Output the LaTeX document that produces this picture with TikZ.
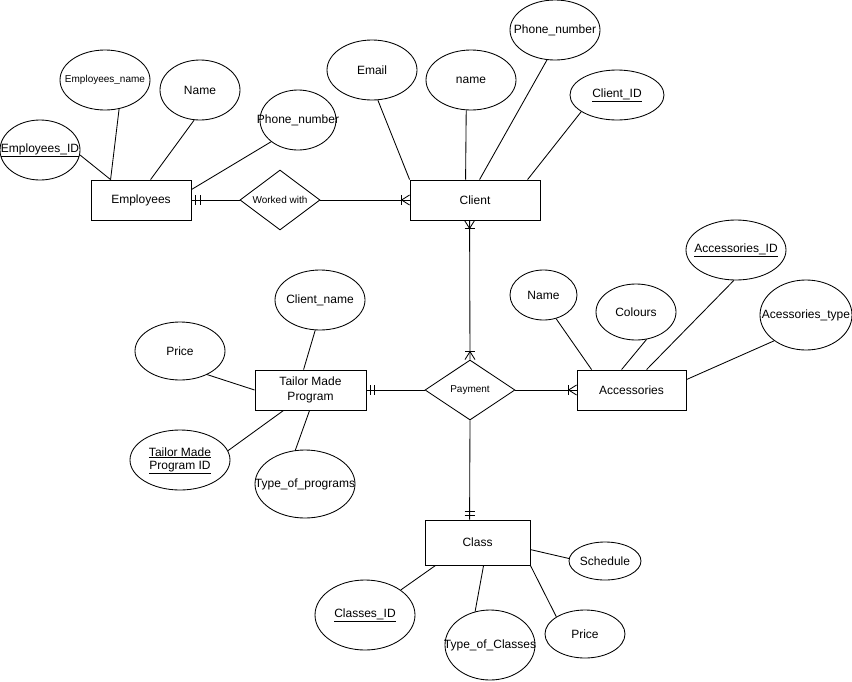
\documentclass[tikz,border=0pt]{standalone}
\usepackage{fontspec}
\setmainfont{Liberation Sans}
\usetikzlibrary{shapes.geometric,calc}
\begin{document}
\begin{tikzpicture}[x=1pt,y=-1pt,line width=0.85pt,
  every node/.style={font=\fontsize{12}{14.4}\selectfont},
  ent/.style 2 args={draw,rectangle,inner sep=0,align=center,minimum width=#1,minimum height=#2},
  attr/.style 2 args={draw,ellipse,inner sep=0,minimum width=#1,minimum height=#2},
  rel/.style 2 args={draw,diamond,inner sep=0,minimum width=#1,minimum height=#2,font=\fontsize{10}{12}\selectfont},
  small/.style={font=\fontsize{10}{12}\selectfont}]
\useasboundingbox (0,0) rectangle (852,681);

% entities and relationships
\node[ent={100}{40}] (emp) at (141,200) {Employees};
\node[rel={80}{60}] (wk) at (280,200) {\makebox[0pt]{Worked with}};
\node[ent={130}{40}] (client) at (475,200) {Client};
\node[rel={90}{60}] (pay) at (470,390) {\makebox[0pt]{Payment}};
\node[ent={111}{40}] (tmp) at (310.5,390) {Tailor Made\\Program};
\node[ent={109}{40}] (acc) at (631.5,390) {Accessories};
\node[ent={105}{45}] (cls) at (477.5,542.5) {Class};

% attributes of Employees
\node[attr={80}{60}] (eid) at (40,150) {\makebox[0pt]{\underline{Employees\_ID}}};
\node[attr={90}{60},small] (ename) at (105,80) {\makebox[0pt]{Employees\_name}};
\node[attr={80}{60}] (ename2) at (200,90) {\makebox[0pt]{Name}};
\node[attr={76}{60}] (ephone) at (298,120) {\makebox[0pt]{Phone\_number}};

% attributes of Client
\node[attr={90}{60}] (cemail) at (372,70) {\makebox[0pt]{Email}};
\node[attr={90}{60}] (cname) at (471,80) {\makebox[0pt]{name}};
\node[attr={90}{60}] (cphone) at (555,30) {\makebox[0pt]{Phone\_number}};
\node[attr={94}{50}] (cid) at (617,95) {\makebox[0pt]{\underline{Client\_ID}}};

% attributes of Tailor Made Program
\node[attr={90}{60}] (tcn) at (320,300) {\makebox[0pt]{Client\_name}};
\node[attr={90}{58}] (tprice) at (180,351) {\makebox[0pt]{Price}};
\node[attr={100}{60}] (tid) at (180,460) {\makebox[0pt]{\begin{tabular}{@{}c@{}}\underline{Tailor Made}\\[-1pt]\underline{Program ID}\end{tabular}}};
\node[attr={100}{68}] (ttype) at (305,484) {\makebox[0pt]{Type\_of\_programs}};

% attributes of Accessories
\node[attr={67}{50}] (aname) at (543.5,295) {\makebox[0pt]{Name}};
\node[attr={80}{56}] (acol) at (636,312) {\makebox[0pt]{Colours}};
\node[attr={100}{60}] (aid) at (736,250) {\makebox[0pt]{\underline{Accessories\_ID}}};
\node[attr={92}{70}] (atype) at (806,315) {\makebox[0pt]{Acessories\_type}};

% attributes of Class
\node[attr={72}{38}] (csched) at (605,561) {\makebox[0pt]{Schedule}};
\node[attr={100}{70}] (cid2) at (365,615) {\makebox[0pt]{\underline{Classes\_ID}}};
\node[attr={90}{70}] (ctype) at (490,645) {\makebox[0pt]{Type\_of\_Classes}};
\node[attr={80}{48}] (cprice) at (585,634) {\makebox[0pt]{Price}};

% attribute connectors
\draw (eid.-7) -- ($(emp.north west)+(20,0)$);
\draw (ename.-64) -- ($(emp.north west)+(20,0)$);
\draw (ename2.-101) -- ($(emp.north west)+(60,0)$);
\draw (ephone.-141) -- ($(emp.north east)+(0,10)$);

\draw (cemail.-79) -- (client.north west);
\draw (cname.-99) -- ($(client.north west)+(56,0)$);
\draw (cphone.-105) -- ($(client.north west)+(70,0)$);
\draw (cid.-155) -- ($(client.north west)+(118,0)$);

\draw (tcn.-99) -- ($(tmp.north west)+(49,0)$);
\draw (tprice.-41) -- (tmp.west);
\draw (tid.11) -- ($(tmp.south west)+(29,0)$);
\draw (ttype.106) -- ($(tmp.south west)+(55,0)$);

\draw (aname.-62) -- ($(acc.north west)+(15,0)$);
\draw (acol.-69) -- ($(acc.north west)+(45,0)$);
\draw (aid.-94) -- ($(acc.north west)+(70,0)$);
\draw (atype.-141) -- ($(acc.north east)+(0,10)$);

\draw (csched.176) -- ($(cls.north east)+(0,30)$);
\draw (cid2.35) -- ($(cls.south west)+(11,0)$);
\draw (ctype.114) -- ($(cls.south west)+(59,0)$);
\draw (cprice.149) -- (cls.south east);

% relationship connectors
\draw (emp.east) -- (wk.west);
\draw ($(emp.east)+(4,-5)$) -- ++(0,10);
\draw ($(emp.east)+(9,-5)$) -- ++(0,10);

\draw (wk.east) -- (client.west);
\draw ($(client.west)+(-8,-5)$) -- ++(0,10);
\draw ($(client.west)+(-8,0)$) -- ($(client.west)+(0,-5)$);
\draw ($(client.west)+(-8,0)$) -- ($(client.west)+(0,5)$);

\coordinate (cb) at ($(client.south west)+(60,0)$);
\draw (cb) -- (pay.north);
\draw ($(cb)+(-5,8)$) -- ++(10,0);
\draw ($(cb)+(0,8)$) -- ($(cb)+(-5,0)$);
\draw ($(cb)+(0,8)$) -- ($(cb)+(5,0)$);
\draw ($(pay.north)+(-5,-8)$) -- ++(10,0);
\draw ($(pay.north)+(0,-8)$) -- ($(pay.north)+(-5,0)$);
\draw ($(pay.north)+(0,-8)$) -- ($(pay.north)+(5,0)$);

\draw (tmp.east) -- (pay.west);
\draw ($(tmp.east)+(4,-5)$) -- ++(0,10);
\draw ($(tmp.east)+(8,-5)$) -- ++(0,10);

\draw (pay.east) -- (acc.west);
\draw ($(acc.west)+(-8,-5)$) -- ++(0,10);
\draw ($(acc.west)+(-8,0)$) -- ($(acc.west)+(0,-5)$);
\draw ($(acc.west)+(-8,0)$) -- ($(acc.west)+(0,5)$);

\coordinate (ct) at ($(cls.north west)+(45,0)$);
\draw (pay.south) -- (ct);
\draw ($(ct)+(-5,-4)$) -- ++(10,0);
\draw ($(ct)+(-5,-8)$) -- ++(10,0);
\end{tikzpicture}
\end{document}
